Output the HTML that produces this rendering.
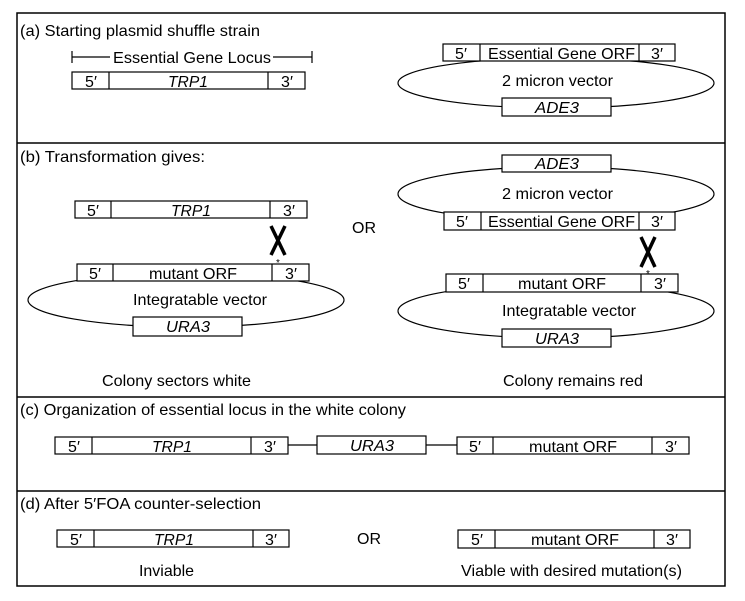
<!DOCTYPE html>
<html><head><meta charset="utf-8"><style>
html,body{margin:0;padding:0;background:#fff;}
svg{display:block;}
text{font-family:"Liberation Sans",sans-serif;font-size:16px;fill:#000;}
.i{font-style:italic;}
rect{fill:#fff;stroke:#000;stroke-width:1.2;}
line,ellipse,path{stroke:#000;stroke-width:1.2;fill:none;}
</style></head><body>
<svg width="745" height="601" viewBox="0 0 745 601">
<rect x="17" y="13" width="708" height="573" style="fill:none;stroke-width:1.5"/>
<line x1="17" y1="143" x2="725" y2="143" style="stroke-width:1.5"/>
<line x1="17" y1="397" x2="725" y2="397" style="stroke-width:1.5"/>
<line x1="17" y1="491" x2="725" y2="491" style="stroke-width:1.5"/>

<!-- (a) -->
<text x="20" y="36" textLength="240" lengthAdjust="spacingAndGlyphs">(a)  Starting plasmid shuffle strain</text>
<line x1="72" y1="57" x2="110" y2="57"/><line x1="72" y1="51" x2="72" y2="63"/>
<line x1="273" y1="57" x2="312" y2="57"/><line x1="312" y1="51" x2="312" y2="63"/>
<text x="113" y="63" textLength="158" lengthAdjust="spacingAndGlyphs">Essential Gene Locus</text>
<rect x="72" y="72" width="233" height="17"/><line x1="109" y1="72" x2="109" y2="89"/><line x1="268" y1="72" x2="268" y2="89"/>
<text x="91" y="87" text-anchor="middle">5′</text><text x="188" y="87" text-anchor="middle" class="i" textLength="40" lengthAdjust="spacingAndGlyphs">TRP1</text><text x="287" y="87" text-anchor="middle">3′</text>

<ellipse cx="556" cy="83" rx="158" ry="25"/>
<rect x="443" y="44" width="232" height="17"/><line x1="480" y1="44" x2="480" y2="61"/><line x1="639" y1="44" x2="639" y2="61"/>
<text x="461" y="59" text-anchor="middle">5′</text><text x="488" y="59" textLength="147" lengthAdjust="spacingAndGlyphs">Essential Gene ORF</text><text x="657" y="59" text-anchor="middle">3′</text>
<text x="502" y="86" textLength="111" lengthAdjust="spacingAndGlyphs">2 micron vector</text>
<rect x="502" y="98" width="109" height="18"/><text x="557" y="113" text-anchor="middle" class="i" textLength="44" lengthAdjust="spacingAndGlyphs">ADE3</text>

<!-- (b) -->
<text x="20" y="162" textLength="185" lengthAdjust="spacingAndGlyphs">(b)  Transformation gives:</text>
<rect x="75" y="201" width="232" height="17"/><line x1="111" y1="201" x2="111" y2="218"/><line x1="270" y1="201" x2="270" y2="218"/>
<text x="93" y="216" text-anchor="middle">5′</text><text x="191" y="216" text-anchor="middle" class="i" textLength="40" lengthAdjust="spacingAndGlyphs">TRP1</text><text x="289" y="216" text-anchor="middle">3′</text>
<path d="M271 226 L285 255 M285 226 L271 255" style="stroke-width:3.5"/>
<text x="278" y="266" text-anchor="middle" style="font-size:10px">*</text>
<ellipse cx="186" cy="300" rx="158" ry="27"/>
<rect x="77" y="264" width="232" height="17"/><line x1="113" y1="264" x2="113" y2="281"/><line x1="272" y1="264" x2="272" y2="281"/>
<text x="95" y="279" text-anchor="middle">5′</text><text x="149" y="279" textLength="88" lengthAdjust="spacingAndGlyphs">mutant ORF</text><text x="291" y="279" text-anchor="middle">3′</text>
<text x="133" y="305" textLength="134" lengthAdjust="spacingAndGlyphs">Integratable vector</text>
<rect x="133" y="317" width="109" height="19"/><text x="188" y="332" text-anchor="middle" class="i" textLength="44" lengthAdjust="spacingAndGlyphs">URA3</text>
<text x="102" y="386" textLength="149" lengthAdjust="spacingAndGlyphs">Colony sectors white</text>

<text x="364" y="233" text-anchor="middle">OR</text>

<ellipse cx="556" cy="194" rx="158" ry="27"/>
<rect x="502" y="155" width="109" height="17"/><text x="557" y="169" text-anchor="middle" class="i" textLength="44" lengthAdjust="spacingAndGlyphs">ADE3</text>
<text x="502" y="199" textLength="111" lengthAdjust="spacingAndGlyphs">2 micron vector</text>
<rect x="444" y="212" width="231" height="18"/><line x1="481" y1="212" x2="481" y2="230"/><line x1="639" y1="212" x2="639" y2="230"/>
<text x="462" y="227" text-anchor="middle">5′</text><text x="488" y="227" textLength="147" lengthAdjust="spacingAndGlyphs">Essential Gene ORF</text><text x="657" y="227" text-anchor="middle">3′</text>
<path d="M641 237 L655 267 M655 237 L641 267" style="stroke-width:3.5"/>
<text x="648" y="277" text-anchor="middle" style="font-size:10px">*</text>
<ellipse cx="556" cy="311" rx="158" ry="27"/>
<rect x="446" y="274" width="232" height="18"/><line x1="483" y1="274" x2="483" y2="292"/><line x1="641" y1="274" x2="641" y2="292"/>
<text x="464" y="289" text-anchor="middle">5′</text><text x="518" y="289" textLength="88" lengthAdjust="spacingAndGlyphs">mutant ORF</text><text x="660" y="289" text-anchor="middle">3′</text>
<text x="502" y="316" textLength="134" lengthAdjust="spacingAndGlyphs">Integratable vector</text>
<rect x="502" y="329" width="109" height="18"/><text x="557" y="344" text-anchor="middle" class="i" textLength="44" lengthAdjust="spacingAndGlyphs">URA3</text>
<text x="503" y="386" textLength="140" lengthAdjust="spacingAndGlyphs">Colony remains red</text>

<!-- (c) -->
<text x="20" y="415" textLength="386" lengthAdjust="spacingAndGlyphs">(c)  Organization of essential locus in the white colony</text>
<rect x="55" y="437" width="233" height="17"/><line x1="92" y1="437" x2="92" y2="454"/><line x1="251" y1="437" x2="251" y2="454"/>
<text x="74" y="452" text-anchor="middle">5′</text><text x="172" y="452" text-anchor="middle" class="i" textLength="40" lengthAdjust="spacingAndGlyphs">TRP1</text><text x="270" y="452" text-anchor="middle">3′</text>
<line x1="288" y1="445" x2="317" y2="445"/>
<rect x="317" y="436" width="109" height="18"/><text x="372" y="451" text-anchor="middle" class="i" textLength="44" lengthAdjust="spacingAndGlyphs">URA3</text>
<line x1="426" y1="445" x2="457" y2="445"/>
<rect x="457" y="437" width="232" height="17"/><line x1="493" y1="437" x2="493" y2="454"/><line x1="652" y1="437" x2="652" y2="454"/>
<text x="475" y="452" text-anchor="middle">5′</text><text x="529" y="452" textLength="88" lengthAdjust="spacingAndGlyphs">mutant ORF</text><text x="671" y="452" text-anchor="middle">3′</text>

<!-- (d) -->
<text x="20" y="509" textLength="241" lengthAdjust="spacingAndGlyphs">(d)  After 5′FOA counter-selection</text>
<rect x="57" y="530" width="232" height="17"/><line x1="94" y1="530" x2="94" y2="547"/><line x1="253" y1="530" x2="253" y2="547"/>
<text x="76" y="545" text-anchor="middle">5′</text><text x="174" y="545" text-anchor="middle" class="i" textLength="40" lengthAdjust="spacingAndGlyphs">TRP1</text><text x="271" y="545" text-anchor="middle">3′</text>
<text x="369" y="544" text-anchor="middle">OR</text>
<rect x="458" y="530" width="232" height="18"/><line x1="495" y1="530" x2="495" y2="548"/><line x1="654" y1="530" x2="654" y2="548"/>
<text x="477" y="545" text-anchor="middle">5′</text><text x="531" y="545" textLength="88" lengthAdjust="spacingAndGlyphs">mutant ORF</text><text x="672" y="545" text-anchor="middle">3′</text>
<text x="139" y="576" textLength="55" lengthAdjust="spacingAndGlyphs">Inviable</text>
<text x="461" y="576" textLength="221" lengthAdjust="spacingAndGlyphs">Viable with desired mutation(s)</text>
</svg>
</body></html>
